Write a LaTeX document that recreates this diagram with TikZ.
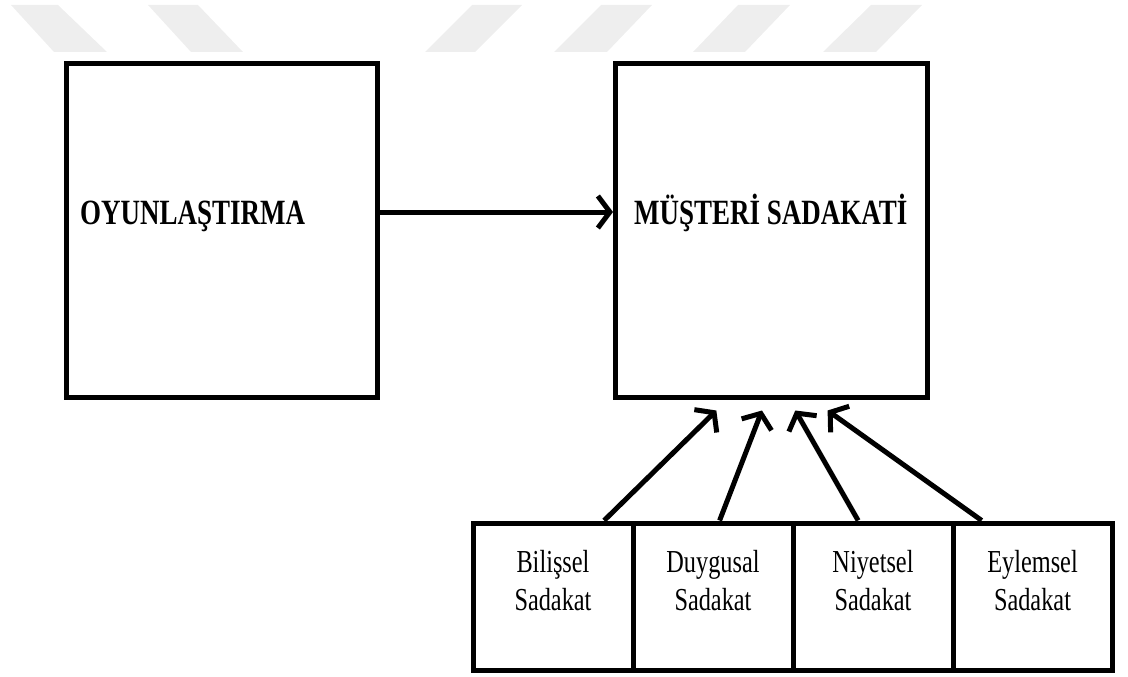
\documentclass[tikz,border=0pt]{standalone}
\usepackage{fontspec}
\setmainfont{Liberation Serif}
\newfontfamily\narrowfont[FakeStretch=0.76]{Liberation Serif}
\usetikzlibrary{arrows.meta,calc}
\definecolor{stripegray}{RGB}{238,238,238}
\begin{document}
\begin{tikzpicture}[x=1pt,y=-1pt,
  box/.style={draw=black,line width=5pt,fill=white,inner sep=0pt},
  title/.style={font=\narrowfont\bfseries\fontsize{35.5}{38}\selectfont,inner sep=0pt},
  sub/.style={font=\narrowfont\fontsize{32}{38}\selectfont,align=center,inner sep=0pt},
  arr/.style={line width=5pt,-{Straight Barb[length=12pt,width=32pt]}},
  stripe/.style={fill=stripegray,draw=none}]
\useasboundingbox (0,0) rectangle (1128,677);
% watermark stripes
\fill[stripe] (11,5) -- (58,5) -- (107,52) -- (54,52) -- cycle;
\fill[stripe] (148,5) -- (198,5) -- (243,52) -- (191,52) -- cycle;
\fill[stripe] (472,5) -- (522,5) -- (475,52) -- (425,52) -- cycle;
\fill[stripe] (601,5) -- (652,5) -- (607,52) -- (554,52) -- cycle;
\fill[stripe] (738,5) -- (790,5) -- (745,52) -- (693,52) -- cycle;
\fill[stripe] (871,5) -- (922,5) -- (876,52) -- (823,52) -- cycle;
% main boxes
\node[box,minimum width=311pt,minimum height=333pt] (L) at (222,230.5) {};
\node[box,minimum width=312pt,minimum height=333pt] (R) at (771.5,230.5) {};
\node[title,anchor=base west] (Lt) at (80,224) {OYUNLAŞTIRMA};
\node[title,anchor=base west] (Rt) at (634,224) {MÜŞTERİ SADAKATİ};
% bottom boxes
\node[box,minimum width=160pt,minimum height=147pt] (b1) at (553,596.5) {};
\node[box,minimum width=160pt,minimum height=147pt] (b2) at (713,596.5) {};
\node[box,minimum width=160pt,minimum height=147pt] (b3) at (873,596.5) {};
\node[box,minimum width=159pt,minimum height=147pt] (b4) at (1032.5,596.5) {};
\node[sub] (t1) at (553,581) {Bilişsel\\Sadakat};
\node[sub] (t2) at (713,581) {Duygusal\\Sadakat};
\node[sub] (t3) at (873,581) {Niyetsel\\Sadakat};
\node[sub] (t4) at (1032.5,581) {Eylemsel\\Sadakat};
% arrows
\draw[arr] ($(L.east)+(0,-18.5)$) -- ($(R.west)+(0,-18.5)$);
\draw[arr] ($(b1.north west)!0.81!(b1.north east)$) -- ($(R.south west)!0.326!(R.south east)+(0,11)$);
\draw[arr] ($(b2.north west)!0.54!(b2.north east)$) -- ($(R.south west)!0.47!(R.south east)+(0,11)$);
\draw[arr] ($(b3.north west)!0.41!(b3.north east)$) -- ($(R.south west)!0.575!(R.south east)+(0,11)$);
\draw[arr] ($(b4.north west)!0.19!(b4.north east)$) -- ($(R.south west)!0.677!(R.south east)+(0,11)$);
\end{tikzpicture}
\end{document}
